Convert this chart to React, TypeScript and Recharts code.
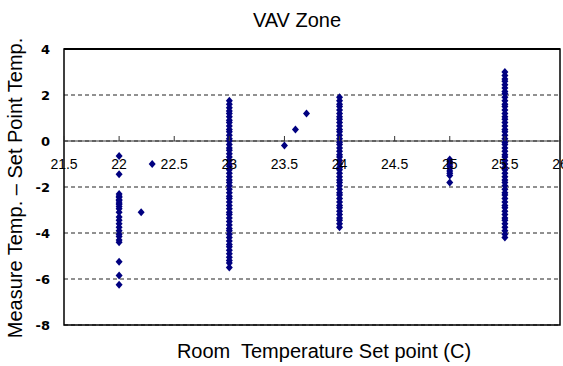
import React from "react";
import {
  ScatterChart,
  Scatter,
  XAxis,
  YAxis,
  CartesianGrid,
  ReferenceLine,
  ReferenceArea,
} from "recharts";

// measured minus set-point temperature, grouped by room set point (C)
const at22 = [-0.65, -1.45, -2.3, -2.4, -2.45, -2.55, -2.6, -2.7, -2.75, -2.85, -2.95, -3.1, -3.3, -3.45, -3.6, -3.75, -3.9, -4.05, -4.15, -4.3, -4.4, -5.25, -5.85, -6.25];
const at22_2 = [-3.1];
const at22_3 = [-1.0];
const at23 = [1.75, 1.6, 1.45, 1.3, 1.2, 1.05, 0.9, 0.8, 0.65, 0.5, 0.4, 0.25, 0.1, 0, -0.15, -0.3, -0.4, -0.55, -0.7, -0.85, -1.0, -1.1, -1.25, -1.4, -1.55, -1.7, -1.8, -1.95, -2.1, -2.25, -2.4, -2.5, -2.65, -2.8, -2.95, -3.1, -3.2, -3.35, -3.5, -3.65, -3.8, -3.9, -4.05, -4.2, -4.35, -4.5, -4.6, -4.75, -4.9, -5.05, -5.2, -5.3, -5.5];
const at23_5 = [-0.2];
const at23_6 = [0.5];
const at23_7 = [1.2];
const at24 = [1.9, 1.75, 1.6, 1.5, 1.35, 1.2, 1.05, 0.95, 0.8, 0.65, 0.5, 0.4, 0.25, 0.1, -0.05, -0.15, -0.3, -0.45, -0.6, -0.7, -0.85, -1.0, -1.15, -1.25, -1.4, -1.55, -1.7, -1.8, -1.95, -2.1, -2.25, -2.35, -2.5, -2.65, -2.8, -2.9, -3.05, -3.2, -3.35, -3.45, -3.6, -3.75];
const at25 = [-0.8, -0.9, -1.0, -1.1, -1.2, -1.3, -1.4, -1.5, -1.8];
const at25_5 = [3.0, 2.85, 2.7, 2.6, 2.45, 2.3, 2.15, 2.05, 1.9, 1.75, 1.6, 1.5, 1.35, 1.2, 1.05, 0.95, 0.8, 0.65, 0.5, 0.4, 0.25, 0.1, -0.05, -0.15, -0.3, -0.45, -0.6, -0.7, -0.85, -1.0, -1.15, -1.25, -1.4, -1.55, -1.7, -1.8, -1.95, -2.1, -2.25, -2.35, -2.5, -2.65, -2.8, -2.9, -3.05, -3.2, -3.35, -3.45, -3.6, -3.75, -3.9, -4.05, -4.2];

const xTicks = [21.5, 22, 22.5, 23, 23.5, 24, 24.5, 25, 25.5, 26];
const yTicks = [4, 2, 0, -2, -4, -6, -8];

const groups: [number, number[]][] = [
  [22, at22],
  [22.2, at22_2],
  [22.3, at22_3],
  [23, at23],
  [23.5, at23_5],
  [23.6, at23_6],
  [23.7, at23_7],
  [24, at24],
  [25, at25],
  [25.5, at25_5],
];
const data = groups.flatMap(([x, ys]) => ys.map((y) => ({ x, y })));

const W = 563;
const H = 366;
const TOP = 49;
const BOTTOM = 40;
const X_AXIS_H = 1;
const PLOT_H = H - TOP - BOTTOM - X_AXIS_H;
const ZERO_Y = TOP + (PLOT_H * 4) / 12;
const FONT = "'Liberation Sans', Arial, sans-serif";

const Diamond = (props: any) => {
  const { cx, cy } = props;
  if (cx == null || cy == null) return null;
  return (
    <polygon
      points={`${cx},${cy - 4} ${cx + 3.5},${cy} ${cx},${cy + 4} ${cx - 3.5},${cy}`}
      fill="#000080"
    />
  );
};

const renderXTick = (props: any) => {
  const { x, payload } = props;
  return (
    <g key={`xt-${payload.value}`}>
      <line x1={x} x2={x} y1={ZERO_Y} y2={ZERO_Y - 5} stroke="#333" />
      <text x={x} y={ZERO_Y + 28} textAnchor="middle" fontSize={14} fontFamily={FONT} fill="#000">
        {payload.value}
      </text>
    </g>
  );
};

export default function App() {
  return (
    <div style={{ position: "absolute", left: 0, top: 0, width: W, height: H, background: "#fff", fontFamily: FONT }}>
      <div style={{ position: "absolute", left: 0, width: 594, top: 8, textAlign: "center", fontSize: 20, lineHeight: "24px" }}>
        VAV Zone
      </div>
      <div style={{ position: "absolute", left: 0, width: 648, top: 339, textAlign: "center", fontSize: 20, lineHeight: "24px", whiteSpace: "pre" }}>
        {"Room  Temperature Set point (C)"}
      </div>
      <div
        style={{
          position: "absolute",
          left: 15,
          top: 188,
          width: 340,
          marginLeft: -170,
          marginTop: -12,
          textAlign: "center",
          fontSize: 20,
          lineHeight: "24px",
          transform: "rotate(-90deg)",
          whiteSpace: "nowrap",
        }}
      >
        {"Measure Temp. \u2013 Set Point Temp."}
      </div>
      <ScatterChart width={W} height={H} margin={{ top: TOP, right: 3, bottom: BOTTOM, left: 0 }} style={{ position: "absolute", left: 0, top: 0 }}>
        <CartesianGrid horizontal vertical={false} stroke="#222" strokeDasharray="4 3" />
        <XAxis
          type="number"
          dataKey="x"
          domain={[21.5, 26]}
          ticks={xTicks}
          height={X_AXIS_H}
          axisLine={false}
          tickLine={false}
          tick={renderXTick}
          interval={0}
          allowDataOverflow
        />
        <YAxis
          type="number"
          dataKey="y"
          domain={[-8, 4]}
          ticks={yTicks}
          width={64}
          axisLine={false}
          tickLine={false}
          tickSize={6}
          tickMargin={8}
          interval={0}
          tick={{ fontSize: 13, fontWeight: 900, fill: "#000", fontFamily: "'DejaVu Sans', sans-serif" }}
        />
        <ReferenceLine y={0} stroke="#333" strokeWidth={1} />
        <ReferenceArea x1={21.5} x2={26} y1={-8} y2={4} fill="none" stroke="#000" strokeWidth={1.5} />
        <ReferenceLine y={4} stroke="#000" strokeWidth={2} />
        <Scatter data={data} shape={<Diamond />} isAnimationActive={false} />
      </ScatterChart>
    </div>
  );
}
